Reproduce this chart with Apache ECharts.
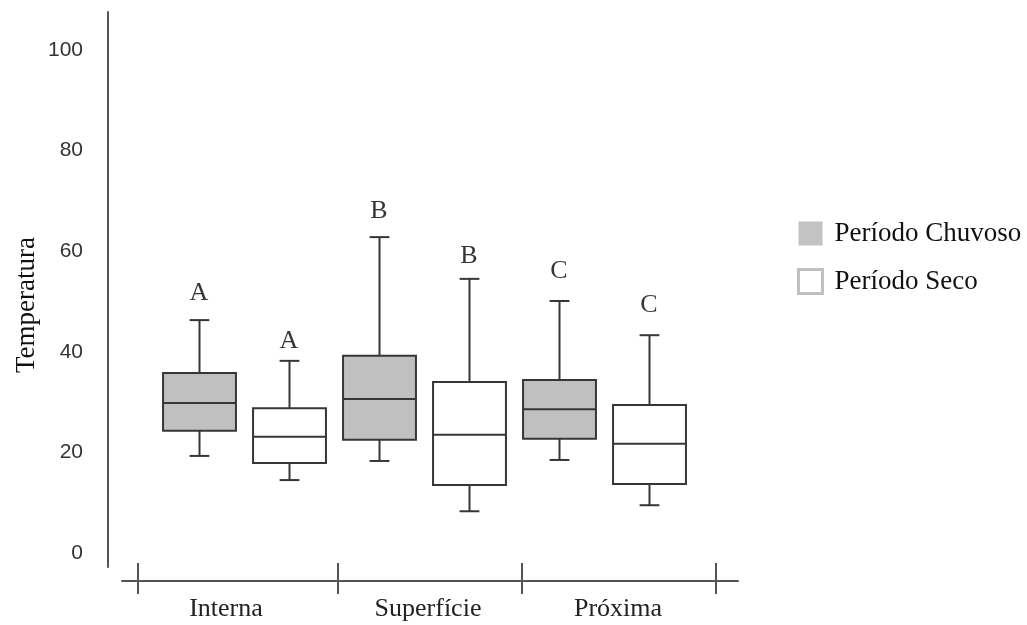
<!DOCTYPE html>
<html><head><meta charset="utf-8">
<script src="https://cdn.jsdelivr.net/npm/echarts@6/dist/echarts.min.js"></script>
<style>html,body{margin:0;padding:0;background:#fff}#c{width:1027px;height:625px}</style>
</head><body><div id="c"></div>
<script>
// ---- data ----
const categories = ['Interna', 'Superfície', 'Próxima'];
const seriesNames = ['Período Chuvoso', 'Período Seco'];
// [min, Q1, median, Q3, max] per category
const chuvoso = [[19.3, 24.3, 29.8, 35.8, 46.3], [18.3, 22.5, 30.6, 39.2, 62.8], [18.5, 22.7, 28.6, 34.4, 50.1]];
const seco = [[14.5, 17.9, 23.1, 28.8, 38.2], [8.3, 13.5, 23.5, 34.0, 54.5], [9.5, 13.7, 21.7, 29.4, 43.3]];
// significance letters: [chuvoso, seco] per category
const letters = [['A', 'A'], ['B', 'B'], ['C', 'C']];
const letterY = [[51.7, 42.1], [68.0, 59.0], [56.1, 49.3]];
const yTicks = [0, 20, 40, 60, 80, 100];
const yName = 'Temperatura';

// ---- layout helpers ----
const slots = [];
categories.forEach(c => { slots.push(c + '|0'); slots.push(c + '|1'); });
const chuvosoData = chuvoso.map((v, i) => [2 * i].concat(v));
const secoData = seco.map((v, i) => [2 * i + 1].concat(v));
const letterData = [];
letters.forEach((pair, i) => pair.forEach((l, p) => letterData.push({ value: [2 * i + p, letterY[i][p]], name: l })));

// visible bottom axis (separate scale in px-like units)
const xAxisLen = 616;
const xTickPos = [16, 216, 400, 594];
const xLabelPos = [104, 306, 496];

const STROKE = '#363636';
function renderBox(fill) {
  return function (params, api) {
    const s = api.value(0);
    const lo = api.coord([s, api.value(1)]);
    const q1 = api.coord([s, api.value(2)]);
    const md = api.coord([s, api.value(3)]);
    const q3 = api.coord([s, api.value(4)]);
    const hi = api.coord([s, api.value(5)]);
    const band = api.size([1, 0])[0];
    const bw = band * 0.81;
    const cap = band * 0.22;
    const cx = Math.round(md[0]) + 0.5;
    const st = { stroke: STROKE, lineWidth: 2 };
    return {
      type: 'group', children: [
        { type: 'line', shape: { x1: cx, y1: hi[1], x2: cx, y2: q3[1] }, style: st },
        { type: 'line', shape: { x1: cx, y1: q1[1], x2: cx, y2: lo[1] }, style: st },
        { type: 'line', shape: { x1: cx - cap / 2, y1: hi[1], x2: cx + cap / 2, y2: hi[1] }, style: st },
        { type: 'line', shape: { x1: cx - cap / 2, y1: lo[1], x2: cx + cap / 2, y2: lo[1] }, style: st },
        { type: 'rect', shape: { x: cx - bw / 2, y: q3[1], width: bw, height: q1[1] - q3[1] }, style: { fill: fill, stroke: STROKE, lineWidth: 2 } },
        { type: 'line', shape: { x1: cx - bw / 2, y1: md[1], x2: cx + bw / 2, y2: md[1] }, style: st }
      ]
    };
  };
}

const chart = echarts.init(document.getElementById('c'), null, { renderer: 'canvas' });
chart.setOption({
  animation: false,
  backgroundColor: '#fff',
  grid: [
    { left: 154, right: 333, top: 12, bottom: 58, outerBoundsMode: 'none', containLabel: false },
    { left: 122, right: 289, top: 520, bottom: 44, outerBoundsMode: 'none', containLabel: false }
  ],
  xAxis: [
    { type: 'category', gridIndex: 0, data: slots, show: false, boundaryGap: true },
    {
      type: 'value', gridIndex: 1, min: 0, max: xAxisLen, position: 'bottom',
      axisLine: { show: true, lineStyle: { color: '#555', width: 2 } },
      axisTick: { show: true, inside: true, length: 18, customValues: xTickPos, lineStyle: { color: '#555', width: 2 } },
      axisLabel: { show: false }, splitLine: { show: false }
    },
    {
      type: 'value', gridIndex: 1, min: 0, max: xAxisLen, position: 'bottom',
      axisLine: { show: false },
      axisTick: { show: true, inside: false, length: 13, customValues: xTickPos, lineStyle: { color: '#555', width: 2 } },
      axisLabel: {
        show: true, customValues: xLabelPos, margin: 15,
        formatter: function (v) { const i = xLabelPos.indexOf(v); return i >= 0 ? categories[i] : ''; },
        fontFamily: 'Liberation Serif', fontSize: 26, color: '#222'
      },
      splitLine: { show: false }
    }
  ],
  yAxis: [
    {
      type: 'value', gridIndex: 0, min: -2.78, max: 107.55, offset: 46,
      axisLine: { show: true, lineStyle: { color: '#555', width: 2 } },
      axisTick: { show: false },
      splitLine: { show: false },
      axisLabel: { show: true, customValues: yTicks, margin: 25, fontFamily: 'Liberation Sans', fontSize: 21, color: '#333' }
    },
    { type: 'value', gridIndex: 1, show: false, min: 0, max: 1 }
  ],
  legend: {
    orient: 'vertical', left: 792, top: 215, itemWidth: 24, itemHeight: 24, itemGap: 21,
    icon: 'rect', selectedMode: false,
    textStyle: { fontFamily: 'Liberation Serif', fontSize: 27, color: '#111', padding: [0, 0, 0, 7] },
    data: [
      { name: seriesNames[0], itemStyle: { color: '#c3c3c3', borderWidth: 0 } },
      { name: seriesNames[1], itemStyle: { color: '#fff', borderColor: '#c0c0c0', borderWidth: 3 } }
    ]
  },
  graphic: [{
    type: 'text', x: 27, y: 305, rotation: Math.PI / 2,
    style: { text: yName, fontFamily: 'Liberation Serif', fontSize: 27, fill: '#111', align: 'center', verticalAlign: 'middle' }
  }],
  series: [
    {
      name: seriesNames[0], type: 'custom', xAxisIndex: 0, yAxisIndex: 0,
      renderItem: renderBox('#c0c0c0'), data: chuvosoData, encode: { x: 0, y: [1, 2, 3, 4, 5] },
      itemStyle: { color: '#c3c3c3' }
    },
    {
      name: seriesNames[1], type: 'custom', xAxisIndex: 0, yAxisIndex: 0,
      renderItem: renderBox('#ffffff'), data: secoData, encode: { x: 0, y: [1, 2, 3, 4, 5] },
      itemStyle: { color: '#ffffff', borderColor: '#c0c0c0' }
    },
    {
      type: 'scatter', xAxisIndex: 0, yAxisIndex: 0, symbolSize: 0, data: letterData,
      label: { show: true, position: 'inside', formatter: '{b}', fontFamily: 'Liberation Serif', fontSize: 26, color: '#000' },
      silent: true
    }
  ]
});
</script></body></html>
